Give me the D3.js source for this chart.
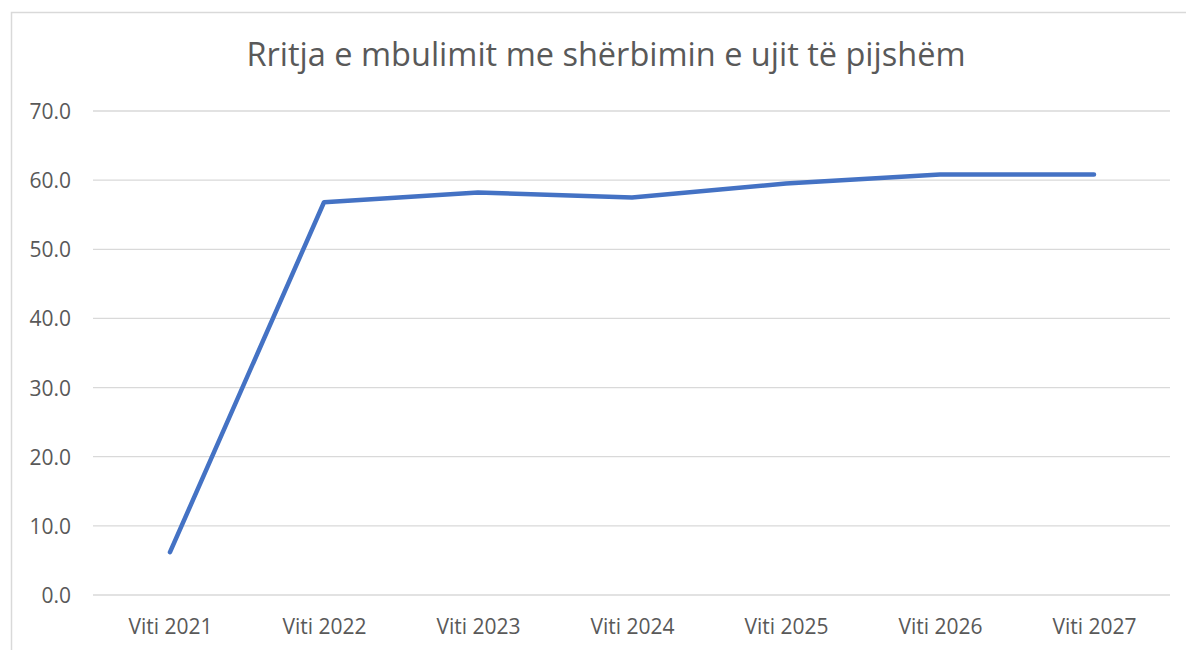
<!DOCTYPE html>
<html>
<head>
<meta charset="utf-8">
<script src="https://cdn.jsdelivr.net/npm/d3@7"></script>
<style>
  body { margin: 0; background: #fff; }
</style>
</head>
<body>
<div id="chart"></div>
<script>
// data
var years = ["Viti 2021", "Viti 2022", "Viti 2023", "Viti 2024", "Viti 2025", "Viti 2026", "Viti 2027"];
var coverage = [6.2, 56.8, 58.2, 57.5, 59.5, 60.8, 60.8];
var yTicks = [0, 10, 20, 30, 40, 50, 60, 70];
var title = "Rritja e mbulimit me shërbimin e ujit të pijshëm";

var w = 1186,
    h = 650,
    svg = d3.select("#chart")
            .append("svg")
            .attr("width", w)
            .attr("height", h);

var font = "'Open Sans', sans-serif";

// chart border
svg.append("rect")
    .attr("x", 11.5)
    .attr("y", 12.5)
    .attr("width", w + 20)
    .attr("height", h + 20)
    .attr("fill", "none")
    .attr("stroke", "#d9d9d9")
    .attr("stroke-width", 1.5);

// scales
var x = d3.scalePoint()
    .domain(years)
    .range([170, 1094]);

var y = d3.scaleLinear()
    .domain([0, 70])
    .range([595, 111]);

// gridlines
svg.append("g")
    .selectAll("line")
    .data(yTicks)
    .enter().append("line")
    .attr("x1", 93)
    .attr("x2", 1170)
    .attr("y1", function(d) { return y(d); })
    .attr("y2", function(d) { return y(d); })
    .attr("stroke", "#d9d9d9")
    .attr("stroke-width", 1.3);

// y axis
var yAxis = svg.append("g")
    .attr("transform", "translate(71, 0)")
    .call(d3.axisLeft(y).tickValues(yTicks).tickFormat(d3.format(".1f")).tickSize(0));
yAxis.select(".domain").remove();
yAxis.selectAll("text")
    .attr("font-family", font)
    .attr("font-size", "21px")
    .attr("fill", "#595959")
    .attr("x", 0)
    .attr("dy", "0.36em");

// x axis
var xAxis = svg.append("g")
    .attr("transform", "translate(0, 595)")
    .call(d3.axisBottom(x).tickSize(0));
xAxis.select(".domain").remove();
xAxis.selectAll("text")
    .attr("font-family", font)
    .attr("font-size", "21px")
    .attr("fill", "#595959")
    .attr("y", 39)
    .attr("dy", "0");

// line
var line = d3.line()
    .x(function(d, i) { return x(years[i]); })
    .y(function(d) { return y(d); });

svg.append("path")
    .datum(coverage)
    .attr("fill", "none")
    .attr("stroke", "#4472c4")
    .attr("stroke-width", 4.5)
    .attr("stroke-linejoin", "round")
    .attr("stroke-linecap", "round")
    .attr("d", line);

// title
svg.append("text")
    .attr("x", 606)
    .attr("y", 66)
    .attr("text-anchor", "middle")
    .attr("font-family", font)
    .attr("font-size", "32.5px")
    .attr("fill", "#595959")
    .text(title);
</script>
</body>
</html>
